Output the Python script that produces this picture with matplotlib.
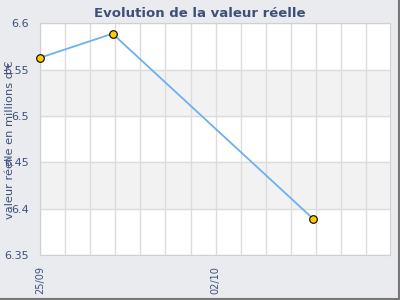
import numpy as np
import matplotlib.pyplot as plt
from matplotlib.lines import Line2D

# data (days since 25/09)
days = [0.0, 2.89, 10.89]
values = [6.563, 6.589, 6.389]
tick_days = [0, 7]
tick_labels = ['25/09', '02/10']
y_ticks = [6.35, 6.4, 6.45, 6.5, 6.55, 6.6]

bg = '#eaebee'
txt = '#3d5079'

fig = plt.figure(figsize=(4, 3), dpi=100, facecolor=bg)
ax = fig.add_axes([0.1, 0.15, 0.875, 0.7717])
ax.set_facecolor('white')

# alternating bands
for i in range(len(y_ticks) - 1):
    if i % 2 == 1:
        ax.axhspan(y_ticks[i], y_ticks[i + 1], color='#f2f2f2', zorder=0)

# daily vertical grid
for d in range(0, 15):
    ax.axvline(d, color='#dcdcdc', lw=1, zorder=1)
for y in y_ticks:
    ax.axhline(y, color='#dcdcdc', lw=1, zorder=1)

ax.plot(days, values, color='#6db0f2', lw=1.3, zorder=3)
ax.scatter(days, values, s=30, color='#ffcc00', edgecolors='black',
           linewidths=0.8, zorder=4, clip_on=False)

ax.set_xlim(0, 13.95)
ax.set_ylim(6.35, 6.6)
ax.set_yticks(y_ticks)
ax.set_yticklabels(['6.35', '6.4', '6.45', '6.5', '6.55', '6.6'])
ax.set_xticks(tick_days)
ax.set_xticklabels(tick_labels, rotation=90)
ax.tick_params(length=0, colors=txt)
ax.tick_params(axis='y', pad=8, labelsize=8)
ax.tick_params(axis='x', pad=8, labelsize=7)
for s in ax.spines.values():
    s.set_color('#d0d0d0')

fig.text(0.5, 0.955, 'Evolution de la valeur réelle', ha='center', va='center',
         fontsize=9.5, fontweight='bold', color=txt)
fig.text(0.024, 0.535, "valeur réelle en millions d'€", rotation=90,
         ha='center', va='center', fontsize=8.2, color=txt)

# frame shadow right/bottom
fig.add_artist(Line2D([0.9965, 0.9965], [0.005, 1], color='#777777', lw=1.5))
fig.add_artist(Line2D([0, 0.9965], [0.005, 0.005], color='#777777', lw=1.5))

fig.savefig('out.png', dpi=100, facecolor=bg)
